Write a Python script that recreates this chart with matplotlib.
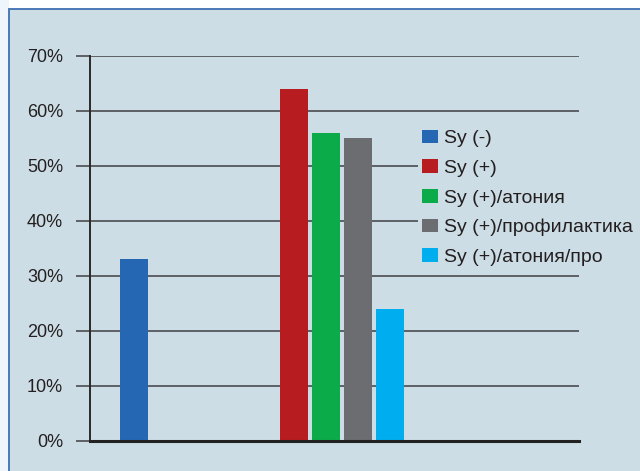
import matplotlib
matplotlib.use('Agg')
import matplotlib.pyplot as plt
from matplotlib import font_manager
from matplotlib.patches import Rectangle, Patch
import numpy as np

series = ['Sy (-)', 'Sy (+)', 'Sy (+)/атония', 'Sy (+)/профилактика', 'Sy (+)/атония/про']
values = [33, 64, 56, 55, 24]
colors = ['#2667b3', '#b71c21', '#0bab4a', '#6c6d70', '#00aeef']
slots = [0, 5, 6, 7, 8]

yticks = [0, 10, 20, 30, 40, 50, 60, 70]
ylabels = ['%d%%' % t for t in yticks]

# narrow face if there is one, otherwise plain Liberation Sans
names = {f.name for f in font_manager.fontManager.ttflist}
font = 'Liberation Sans'
tick_size, leg_size = 13, 14
for cand in ['Liberation Sans Narrow', 'DejaVu Sans Condensed']:
    if cand in names:
        font = cand
        tick_size, leg_size = 14, 15
        break

W, H = 640, 471
fig = plt.figure(figsize=(W / 100, H / 100), dpi=100)
fig.patch.set_facecolor('white')

# light strip on the left, then the panel with its blue border
fig.patches.append(Rectangle((0, 0), 9 / W, 1, transform=fig.transFigure,
                             facecolor='#eef6fb', edgecolor='none', zorder=-2))
fig.patches.append(Rectangle((9 / W, -0.01), 1.0, (H - 9) / H + 0.01,
                             transform=fig.transFigure, facecolor='#cddde5',
                             edgecolor='#3f70b2', linewidth=1.3, zorder=-1))

left, right = 89.7 / W, 579 / W
bottom, top = (H - 440.5) / H, (H - 55.7) / H
ax = fig.add_axes([left, bottom, right - left, top - bottom])
ax.set_facecolor('none')

x = np.array(slots, dtype=float)
ax.bar(x, values, width=0.875, color=colors, zorder=2)

ax.set_xlim(-1.38, 13.91)
ax.set_ylim(0, 70)
ax.set_xticks([])
ax.set_yticks(yticks)
ax.set_yticklabels(ylabels, fontfamily=font, fontsize=tick_size, color='#231f20')
ax.tick_params(axis='y', direction='out', length=10.1, width=1.4,
               color='#5d6166', pad=9)
ax.yaxis.grid(True, color='#5d6166', linewidth=1.4, zorder=1)
ax.set_axisbelow(True)

for s in ['top', 'right']:
    ax.spines[s].set_visible(False)
ax.spines['left'].set_color('#2a2a2a')
ax.spines['left'].set_linewidth(1.4)
ax.spines['left'].set_zorder(3)
ax.spines['bottom'].set_color('#222222')
ax.spines['bottom'].set_linewidth(2.2)
ax.spines['bottom'].set_zorder(3)

handles = [Patch(facecolor=c, edgecolor='none') for c in colors]
leg = fig.legend(handles, series, loc='upper left',
                 bbox_to_anchor=(408 / W, (H - 116) / H),
                 frameon=True, facecolor='#cddde5', edgecolor='none',
                 framealpha=1, fancybox=False, borderpad=0.2,
                 handlelength=0.85, handleheight=0.7, handletextpad=0.3,
                 labelspacing=0.62,
                 prop={'family': font, 'size': leg_size})
for t in leg.get_texts():
    t.set_color('#231f20')

fig.savefig('out.png', dpi=100)
